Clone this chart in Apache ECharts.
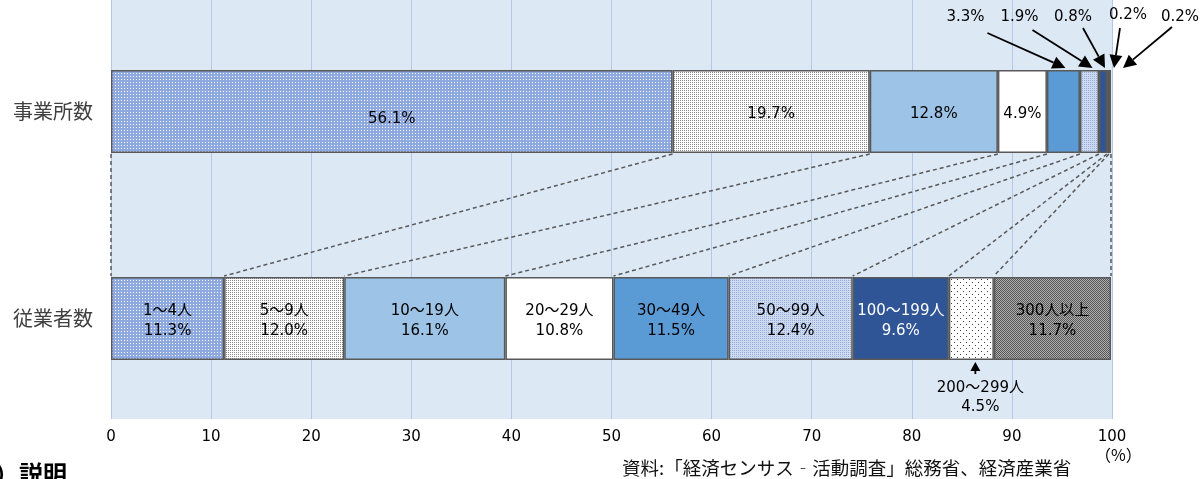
<!DOCTYPE html>
<html lang="ja">
  <head>
    <meta charset="UTF-8" />
    <title>事業所数・従業者数の規模別構成比</title>
    <script src="https://cdn.jsdelivr.net/npm/echarts@6/dist/echarts.min.js"></script>
    <style>
      html, body { margin: 0; padding: 0; background: #fff; }
      #chart { width: 1204px; height: 479px; }
    </style>
  </head>
  <body>
    <div id="chart"></div>
  <script>
    // data
    const rowNames = ["事業所数", "従業者数"];
    const sizeClasses = ["1～4人", "5～9人", "10～19人", "20～29人", "30～49人", "50～99人", "100～199人", "200～299人", "300人以上"];
    const establishmentShare = [56.1, 19.7, 12.8, 4.9, 3.3, 1.9, 0.8, 0.2, 0.2];
    const employeeShare = [11.3, 12.0, 16.1, 10.8, 11.5, 12.4, 9.6, 4.5, 11.7];
    const xTicks = { min: 0, max: 100, interval: 10 };

    const CJK = '"Noto Sans CJK JP", "Noto Sans", sans-serif';
    const NUM = '"DejaVu Sans", "Noto Sans CJK JP", sans-serif';
    const BAR_W = 83;

    function pattern(size, bg, dots) {
      const c = document.createElement("canvas");
      c.width = c.height = size;
      const g = c.getContext("2d");
      g.fillStyle = bg;
      g.fillRect(0, 0, size, size);
      dots.forEach(([x, y, col]) => {
        g.fillStyle = col;
        g.fillRect(x, y, 1, 1);
      });
      return { image: c, repeat: "repeat" };
    }

    const fills = [
      pattern(3, "#8ea9df", [[1, 1, "#ffffff"]]),
      pattern(2, "#ffffff", [[0, 0, "#8a8a8a"]]),
      "#9dc3e6",
      "#ffffff",
      "#5b9bd5",
      pattern(2, "#cfdbf1", [[0, 0, "#94abd9"]]),
      "#2f5597",
      pattern(6, "#ffffff", [[0, 0, "#404040"], [3, 3, "#404040"]]),
      pattern(2, "#b0b0b0", [[0, 0, "#555555"], [1, 1, "#555555"]])
    ];

    const pct = (v) => v.toFixed(1) + "%";

    function cumulative(arr) {
      const out = [0];
      arr.forEach((v) => out.push(Math.round((out[out.length - 1] + v) * 10) / 10));
      return out;
    }
    const topEdges = cumulative(establishmentShare);
    const bottomEdges = cumulative(employeeShare);

    // callouts for the thin segments of the top bar (pixel offsets from the arrow tip)
    const topCallouts = [
      { idx: 4, tipDx: 2, tail: [-78, -35], text: [-100, -51] },
      { idx: 5, tipDx: 3, tail: [-60, -38], text: [-73, -51] },
      { idx: 6, tipDx: 2, tail: [-22, -40], text: [-32, -51] },
      { idx: 7, tipDx: 6, tail: [6, -40], text: [14, -53] },
      { idx: 8, tipDx: 13, tail: [49, -41], text: [57, -51] }
    ];
    const bottomCallout = { idx: 7, tipDx: 4 };

    function arrow(tail, tip, len, half) {
      const dx = tip[0] - tail[0], dy = tip[1] - tail[1];
      const d = Math.sqrt(dx * dx + dy * dy);
      const ux = dx / d, uy = dy / d;
      const bx = tip[0] - ux * len, by = tip[1] - uy * len;
      return [
        { type: "line", shape: { x1: tail[0], y1: tail[1], x2: bx, y2: by }, style: { stroke: "#000", lineWidth: 1.8 } },
        {
          type: "polygon",
          shape: { points: [tip, [bx - uy * half, by + ux * half], [bx + uy * half, by - ux * half]] },
          style: { fill: "#000" }
        }
      ];
    }

    const myChart = echarts.init(document.getElementById("chart"));

    const barSeries = sizeClasses.map((name, i) => ({
      type: "bar",
      name: name,
      stack: "total",
      xAxisIndex: 1,
      yAxisIndex: 1,
      barWidth: BAR_W,
      itemStyle: { color: fills[i], borderColor: "#595959", borderWidth: 1.5 },
      label: { position: "inside", fontFamily: NUM, fontSize: 15, color: "#000", lineHeight: 20 },
      data: [
        {
          value: establishmentShare[i],
          label: { show: i < 4, formatter: pct(establishmentShare[i]), offset: [0, i === 0 ? 8 : 3] }
        },
        {
          value: employeeShare[i],
          label: {
            show: i !== 7,
            formatter: name + "\n" + pct(employeeShare[i]),
            color: i === 6 ? "#ffffff" : "#000",
            offset: [0, 3]
          }
        }
      ]
    }));

    const connectorSeries = {
      type: "custom",
      xAxisIndex: 1,
      yAxisIndex: 1,
      silent: true,
      clip: false,
      z: 5,
      data: topEdges.map((v, i) => [v, bottomEdges[i]]),
      renderItem: function (params, api) {
        const p1 = api.coord([api.value(0), 0]);
        const p2 = api.coord([api.value(1), 1]);
        return {
          type: "line",
          shape: { x1: p1[0], y1: p1[1] + BAR_W / 2 + 1, x2: p2[0], y2: p2[1] - BAR_W / 2 - 1 },
          style: { stroke: "#595959", lineWidth: 1.5, lineDash: [4, 3] }
        };
      }
    };

    const calloutSeries = {
      type: "custom",
      xAxisIndex: 1,
      yAxisIndex: 1,
      silent: true,
      clip: false,
      z: 6,
      data: topCallouts.map((c) => [(topEdges[c.idx] + topEdges[c.idx + 1]) / 2, 0]),
      renderItem: function (params, api) {
        const c = topCallouts[params.dataIndex];
        const p = api.coord([api.value(0), 0]);
        const tip = [p[0] + c.tipDx, p[1] - BAR_W / 2 - 2];
        const tail = [tip[0] + c.tail[0], tip[1] + c.tail[1]];
        return {
          type: "group",
          children: arrow(tail, tip, 13, 6.5).concat([
            {
              type: "text",
              style: {
                text: pct(establishmentShare[c.idx]),
                x: tip[0] + c.text[0],
                y: tip[1] + c.text[1],
                align: "center",
                verticalAlign: "middle",
                font: "15px " + NUM,
                fill: "#000"
              }
            }
          ])
        };
      }
    };

    const bottomCalloutSeries = {
      type: "custom",
      xAxisIndex: 1,
      yAxisIndex: 1,
      silent: true,
      clip: false,
      z: 6,
      data: [[(bottomEdges[bottomCallout.idx] + bottomEdges[bottomCallout.idx + 1]) / 2, 1]],
      renderItem: function (params, api) {
        const p = api.coord([api.value(0), 1]);
        const tip = [p[0] + bottomCallout.tipDx, p[1] + BAR_W / 2 + 2];
        const tail = [tip[0], tip[1] + 12];
        return {
          type: "group",
          children: arrow(tail, tip, 9, 5).concat([
            {
              type: "text",
              style: {
                text: sizeClasses[bottomCallout.idx] + "\n" + pct(employeeShare[bottomCallout.idx]),
                x: tip[0] + 5,
                y: tip[1] + 36,
                align: "center",
                verticalAlign: "middle",
                font: "15px " + NUM,
                lineHeight: 19,
                fill: "#000"
              }
            }
          ])
        };
      }
    };

    const option = {
      animation: false,
      backgroundColor: "#ffffff",
      grid: [
        { left: 111, right: 92, top: 0, bottom: 60, show: true, backgroundColor: "#dde8f5", borderWidth: 0 },
        { left: 111, right: 92, top: 8, bottom: 57 }
      ],
      xAxis: [
        {
          type: "value",
          gridIndex: 0,
          min: xTicks.min,
          max: xTicks.max,
          interval: xTicks.interval,
          axisLine: { show: false },
          axisTick: { show: false },
          splitLine: { show: true, lineStyle: { color: "#b4c7e7", width: 1 } },
          axisLabel: { fontFamily: NUM, fontSize: 15, color: "#000", margin: 11 }
        },
        {
          type: "value",
          gridIndex: 1,
          min: xTicks.min,
          max: xTicks.max,
          show: false
        }
      ],
      yAxis: [
        { type: "value", gridIndex: 0, show: false },
        {
          type: "category",
          gridIndex: 1,
          data: rowNames,
          inverse: true,
          axisLine: { show: false },
          axisTick: { show: false },
          axisLabel: { fontFamily: CJK, fontSize: 20, color: "#404040", margin: 18 }
        }
      ],
      graphic: [
        { type: "text", left: 1095, top: 447, style: { text: "（%）", font: "16px " + CJK, fill: "#000" } },
        { type: "text", left: 622, top: 459, style: { text: "資料:「経済センサス‐活動調査」総務省、経済産業省", font: "18.5px " + CJK, fill: "#111" } },
        { type: "text", left: -5, top: 462, style: { text: "）説明", font: "bold 24px " + CJK, fill: "#000" } }
      ],
      series: barSeries.concat([connectorSeries, calloutSeries, bottomCalloutSeries])
    };

    myChart.setOption(option);
  </script>
  </body>
</html>
